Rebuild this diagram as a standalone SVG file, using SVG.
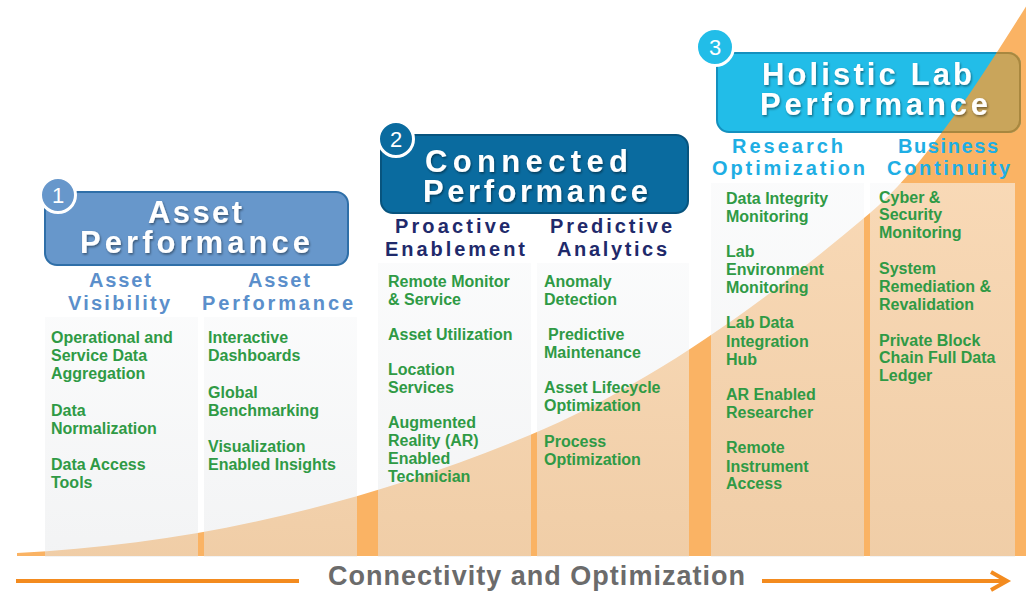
<svg xmlns="http://www.w3.org/2000/svg" width="1026" height="596" viewBox="0 0 1026 596">
<defs>
<style>
.panel{fill:url(#pg);}
.item{font-family:"Liberation Sans",Arial,sans-serif;font-weight:bold;font-size:16px;fill:#2f9a45;}
.title{font-family:"Liberation Sans",Arial,sans-serif;font-weight:bold;font-size:31px;fill:#fff;filter:url(#ts);}
.hdr{font-family:"Liberation Sans",Arial,sans-serif;font-weight:bold;font-size:20px;}
.num{font-family:"Liberation Sans",Arial,sans-serif;font-size:22px;fill:#fff;text-anchor:middle;}
.h1{fill:#5b8fcb;}
.h2{fill:#1f2a6b;}
.h3{fill:#1eaee4;}
.circ{stroke:#fff;stroke-width:3;}
</style>
<linearGradient id="pg" x1="0" y1="0" x2="0" y2="1">
<stop offset="0" stop-color="#f7f8f9" stop-opacity="0.55"/>
<stop offset="1" stop-color="#e6e8ea" stop-opacity="0.5"/>
</linearGradient>
<filter id="ts" x="-10%" y="-30%" width="120%" height="160%">
<feDropShadow dx="1" dy="1.5" stdDeviation="0.8" flood-color="#000" flood-opacity="0.45"/>
</filter>
<path id="curve" d="M17,556 L17,553 C188,545 360,506 530,435 C643,388 757,309 870,213 C923,168 977,85 1030,0 L1026,0 L1026,556 Z"/>
<clipPath id="box3clip"><rect x="716" y="52" width="305" height="81" rx="12"/></clipPath>
<clipPath id="curveclip"><use href="#curve"/></clipPath>
</defs>
<rect width="1026" height="596" fill="#fff"/>
<use href="#curve" fill="#fab364"/>
<g id="panels">
<rect class="panel" x="45" y="317" width="153" height="240"/>
<rect class="panel" x="204" y="317" width="153" height="240"/>
<rect class="panel" x="378" y="263" width="153" height="294"/>
<rect class="panel" x="537" y="263" width="152" height="294"/>
<rect class="panel" x="711" y="183" width="153" height="374"/>
<rect class="panel" x="870" y="183" width="145" height="374"/>
</g>
<g id="stage1">
<rect x="45" y="192" width="303" height="73" rx="12" fill="#6797cb" stroke="#2f6fa8" stroke-width="2"/>
<circle class="circ" cx="58" cy="195" r="17.5" fill="#6797cb"/>
<text class="num" x="58" y="203">1</text>
<text class="title" x="148" y="223" textLength="94" lengthAdjust="spacing">Asset</text>
<text class="title" x="80" y="253" textLength="230" lengthAdjust="spacing">Performance</text>
</g>
<g id="stage2">
<rect x="381" y="135" width="307" height="78" rx="12" fill="#0a6b9f" stroke="#08547e" stroke-width="2"/>
<circle class="circ" cx="396" cy="139" r="17.5" fill="#0a6b9f"/>
<text class="num" x="396" y="147">2</text>
<text class="title" x="425" y="172" textLength="203" lengthAdjust="spacing">Connected</text>
<text class="title" x="423" y="202" textLength="225" lengthAdjust="spacing">Performance</text>
</g>
<g id="stage3">
<rect x="717" y="53" width="303" height="79" rx="12" fill="#22bde8" stroke="#1490be" stroke-width="2"/>
<g clip-path="url(#box3clip)"><use href="#curve" fill="#c9a55b"/></g>
<g clip-path="url(#curveclip)"><rect x="717" y="53" width="303" height="79" rx="12" fill="none" stroke="#a8873f" stroke-width="2"/></g>
<circle class="circ" cx="715" cy="47" r="18.5" fill="#22bde8"/>
<text class="num" x="715" y="55">3</text>
<text class="title" x="762" y="85" textLength="210" lengthAdjust="spacing">Holistic Lab</text>
<text class="title" x="760" y="115" textLength="228" lengthAdjust="spacing">Performance</text>
</g>
<g id="col1">
<text class="hdr h1" x="89" y="287" textLength="62" lengthAdjust="spacing">Asset</text>
<text class="hdr h1" x="68" y="310" textLength="102" lengthAdjust="spacing">Visibility</text>
<text class="item" x="51" y="343">Operational and</text>
<text class="item" x="51" y="361">Service Data</text>
<text class="item" x="51" y="379">Aggregation</text>
<text class="item" x="51" y="416">Data</text>
<text class="item" x="51" y="434">Normalization</text>
<text class="item" x="51" y="470">Data Access</text>
<text class="item" x="51" y="488">Tools</text>
</g>
<g id="col2">
<text class="hdr h1" x="248" y="287" textLength="62" lengthAdjust="spacing">Asset</text>
<text class="hdr h1" x="202" y="310" textLength="151" lengthAdjust="spacing">Performance</text>
<text class="item" x="208" y="343">Interactive</text>
<text class="item" x="208" y="361">Dashboards</text>
<text class="item" x="208" y="398">Global</text>
<text class="item" x="208" y="416">Benchmarking</text>
<text class="item" x="208" y="452">Visualization</text>
<text class="item" x="208" y="470">Enabled Insights</text>
</g>
<g id="col3">
<text class="hdr h2" x="395" y="233" textLength="115" lengthAdjust="spacing">Proactive</text>
<text class="hdr h2" x="385" y="256" textLength="140" lengthAdjust="spacing">Enablement</text>
<text class="item" x="388" y="287">Remote Monitor</text>
<text class="item" x="388" y="305">&amp; Service</text>
<text class="item" x="388" y="340">Asset Utilization</text>
<text class="item" x="388" y="375">Location</text>
<text class="item" x="388" y="393">Services</text>
<text class="item" x="388" y="428">Augmented</text>
<text class="item" x="388" y="446">Reality (AR)</text>
<text class="item" x="388" y="464">Enabled</text>
<text class="item" x="388" y="482">Technician</text>
</g>
<g id="col4">
<text class="hdr h2" x="550" y="233" textLength="122" lengthAdjust="spacing">Predictive</text>
<text class="hdr h2" x="557" y="256" textLength="110" lengthAdjust="spacing">Analytics</text>
<text class="item" x="544" y="287">Anomaly</text>
<text class="item" x="544" y="305">Detection</text>
<text class="item" x="548" y="340">Predictive</text>
<text class="item" x="544" y="358">Maintenance</text>
<text class="item" x="544" y="393">Asset Lifecycle</text>
<text class="item" x="544" y="411">Optimization</text>
<text class="item" x="544" y="447">Process</text>
<text class="item" x="544" y="465">Optimization</text>
</g>
<g id="col5">
<text class="hdr h3" x="732" y="153" textLength="111" lengthAdjust="spacing">Research</text>
<text class="hdr h3" x="712" y="175" textLength="153" lengthAdjust="spacing">Optimization</text>
<text class="item" x="726" y="204">Data Integrity</text>
<text class="item" x="726" y="222">Monitoring</text>
<text class="item" x="726" y="257">Lab</text>
<text class="item" x="726" y="275">Environment</text>
<text class="item" x="726" y="293">Monitoring</text>
<text class="item" x="726" y="328">Lab Data</text>
<text class="item" x="726" y="347">Integration</text>
<text class="item" x="726" y="365">Hub</text>
<text class="item" x="726" y="400">AR Enabled</text>
<text class="item" x="726" y="418">Researcher</text>
<text class="item" x="726" y="453">Remote</text>
<text class="item" x="726" y="472">Instrument</text>
<text class="item" x="726" y="489">Access</text>
</g>
<g id="col6">
<text class="hdr h3" x="898" y="153" textLength="100" lengthAdjust="spacing">Business</text>
<text class="hdr h3" x="887" y="175" textLength="123" lengthAdjust="spacing">Continuity</text>
<text class="item" x="879" y="203">Cyber &amp;</text>
<text class="item" x="879" y="220">Security</text>
<text class="item" x="879" y="238">Monitoring</text>
<text class="item" x="879" y="274">System</text>
<text class="item" x="879" y="292">Remediation &amp;</text>
<text class="item" x="879" y="310">Revalidation</text>
<text class="item" x="879" y="346">Private Block</text>
<text class="item" x="879" y="363">Chain Full Data</text>
<text class="item" x="879" y="381">Ledger</text>
</g>
<g id="connectors" stroke="#f38b1f" stroke-width="4" fill="none" stroke-linecap="butt">
<line x1="16" y1="581" x2="299" y2="581"/>
<line x1="762" y1="581" x2="1006" y2="581"/>
<polyline points="991,572 1007,581 991,590" stroke-linejoin="miter"/>
</g>
<text x="328" y="585" textLength="417" lengthAdjust="spacing" font-family="Liberation Sans, Arial, sans-serif" font-weight="bold" font-size="27" fill="#6b6b6b">Connectivity and Optimization</text>
</svg>
